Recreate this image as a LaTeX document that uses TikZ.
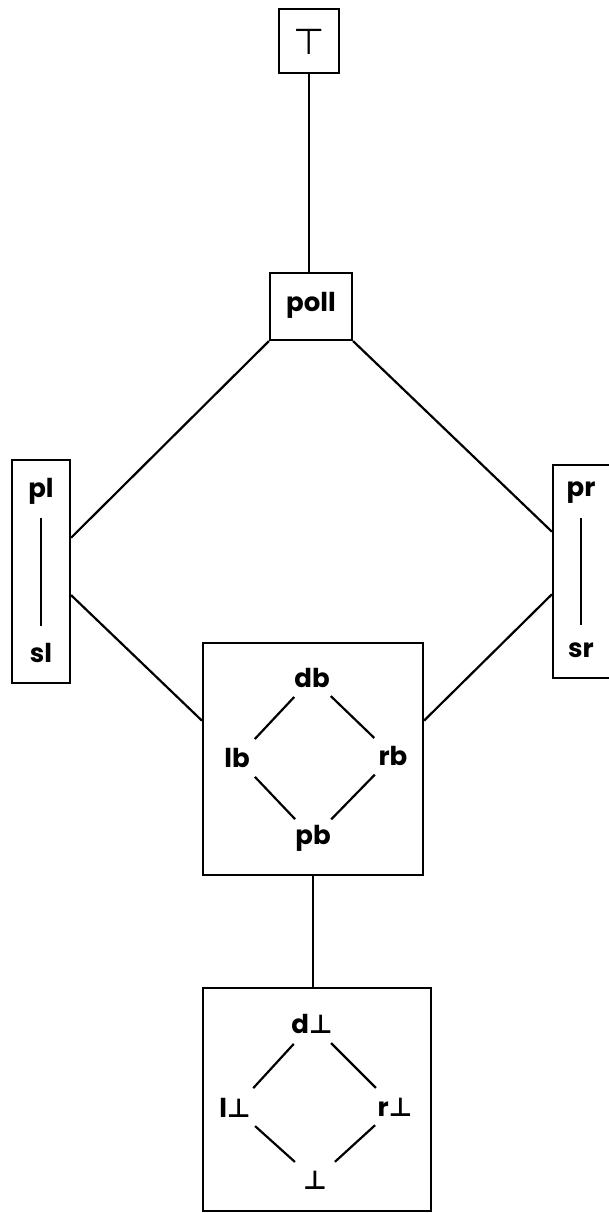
\documentclass[tikz,border=0pt]{standalone}
\usepackage{fontspec}
\setmainfont{Poppins}
\newfontfamily\symf{DejaVu Sans}
\usetikzlibrary{calc}
\newcommand{\bt}{{\symf\bfseries ⊥}}
\tikzset{
  x=1pt, y=-1pt,
  box/.style={draw, line width=2.2pt, inner sep=0pt},
  lab/.style={inner sep=0pt, font=\fontsize{26}{28}\selectfont\bfseries},
  ln/.style={line width=2.2pt},
  sh/.style={ln, shorten <=#1, shorten >=#1},
}
\begin{document}
\begin{tikzpicture}
\useasboundingbox (0,0) rectangle (609,1213);
% boxes
\node[box, minimum width=60pt, minimum height=64pt] (T) at (309,41) {};
\node[inner sep=0pt, font=\fontsize{36}{38}\symf] (Tl) at (309,42) {⊤};
\node[box, minimum width=82pt, minimum height=67pt] (poll) at (311,306.5) {};
\node[lab] (polll) at (311,305) {poll};
\node[box, minimum width=58pt, minimum height=223pt] (lbox) at (41,571.5) {};
\node[box, minimum width=59pt, minimum height=213pt] (rbox) at (582.5,571.5) {};
\node[box, minimum width=220pt, minimum height=232pt] (cbox) at (313,759) {};
\node[box, minimum width=228pt, minimum height=223pt] (bbox) at (317,1099.5) {};
% side labels
\node[lab] (pl) at (41,491) {pl};
\node[lab] (sl) at (41,653) {sl};
\node[lab] (pr) at (581,493) {pr};
\node[lab] (sr) at (581,650) {sr};
% center diamond
\node[lab] (db) at (312,678) {db};
\node[lab] (lb) at (237,758) {lb};
\node[lab] (rb) at (393,756) {rb};
\node[lab] (pb) at (313,838) {pb};
% bottom diamond
\node[lab] (dbot) at (312,1024) {d\bt};
\node[lab] (lbot) at (235,1108) {l\bt};
\node[lab] (rbot) at (395,1107) {r\bt};
\node[lab] (bot) at (315,1180) {\bt};
% connectors
\draw[ln] (T.south) -- (T.south |- poll.north);
\draw[ln] (poll.south west) -- ($(lbox.north east)!0.35!(lbox.south east)$);
\draw[ln] (poll.south east) -- ($(rbox.north west)!0.315!(rbox.south west)$);
\draw[ln] ($(lbox.north east)!0.605!(lbox.south east)$) -- ($(cbox.north west)!0.336!(cbox.south west)$);
\draw[ln] ($(rbox.north west)!0.606!(rbox.south west)$) -- ($(cbox.north east)!0.336!(cbox.south east)$);
\draw[ln] (cbox.south) -- (cbox.south |- bbox.north);
\draw[sh=27pt] (pl.center) -- (sl.center);
\draw[sh=25pt] (pr.center) -- (sr.center);
\draw[sh=26pt] (db.center) -- (lb.center);
\draw[sh=26pt] (db.center) -- (rb.center);
\draw[sh=26pt] (lb.center) -- (pb.center);
\draw[sh=26pt] (rb.center) -- (pb.center);
\draw[sh=27pt] (dbot.center) -- (lbot.center);
\draw[sh=27pt] (dbot.center) -- (rbot.center);
\draw[sh=27pt] (lbot.center) -- (bot.center);
\draw[sh=27pt] (rbot.center) -- (bot.center);
\end{tikzpicture}
\end{document}
